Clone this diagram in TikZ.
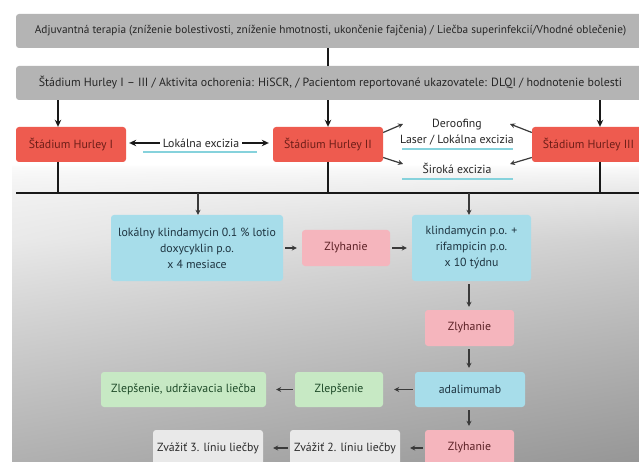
\documentclass[tikz,border=0pt]{standalone}
\usepackage{fontspec}
\setmainfont{PT Sans}
\usetikzlibrary{arrows.meta}
\definecolor{barg}{HTML}{B4B4B4}
\definecolor{bartxt}{HTML}{262626}
\definecolor{hred}{HTML}{EE5B4F}
\definecolor{hredtxt}{HTML}{6E1E18}
\definecolor{pinkf}{HTML}{F5B5BD}
\definecolor{pinktxt}{HTML}{5A1F24}
\definecolor{bluef}{HTML}{A7DDEA}
\definecolor{bluetxt}{HTML}{1E3440}
\definecolor{greenf}{HTML}{C7E9C4}
\definecolor{greentxt}{HTML}{1E4A28}
\definecolor{lgreyf}{HTML}{E9E9E9}
\definecolor{lgreytxt}{HTML}{2A2A2A}
\definecolor{tealline}{HTML}{86D2DC}
\definecolor{arrc}{HTML}{3A3A3A}
\pgfdeclarefunctionalshading{bgtwod}{\pgfpoint{0pt}{0pt}}{\pgfpoint{627pt}{462pt}}{}{
  exch 625 div 0.5 exch sub exch
  296 exch sub 296 div dup 0 lt {pop 0} if
  dup dup sqrt add 0.18 mul 1 exch sub
  3 1 roll
  4 mul dup 1 gt {pop 1} if
  mul 0.1 mul add
  dup dup
}
\tikzset{
  bar/.style={fill=barg, rounded corners=3pt, minimum height=34pt, text=bartxt,
    font=\fontsize{11.3}{13}\selectfont, inner sep=0pt},
  basebox/.style={rounded corners=3pt, align=center, inner sep=0pt,
    font=\fontsize{11.8}{16}\selectfont},
  redbox/.style={basebox, fill=hred, text=hredtxt, minimum height=35pt},
  pinkbox/.style={basebox, fill=pinkf, text=pinktxt, minimum height=36pt},
  bluebox/.style={basebox, fill=bluef, text=bluetxt},
  greenbox/.style={basebox, fill=greenf, text=greentxt, minimum height=35pt},
  greybox/.style={basebox, fill=lgreyf, text=lgreytxt, minimum height=36pt},
  lbl/.style={inner sep=1pt, font=\fontsize{11.8}{13}\selectfont, text=black!85},
  ln/.style={line width=1.6pt, draw=black!90},
  hln/.style={line width=2.2pt, draw=black!90},
  arr/.style={line width=1.3pt, draw=black!90, -{Stealth[length=7pt,width=6.5pt]}},
  arrs/.style={line width=1.1pt, draw=arrc, -{Stealth[length=5pt,width=5pt]}},
  uline/.style={line width=2pt, draw=tealline}
}
\begin{document}
\begin{tikzpicture}[x=1pt,y=-1pt]
\useasboundingbox (0,0) rectangle (639,462);
% background
\fill[white] (0,0) rectangle (639,462);
\node[inner sep=0pt, outer sep=0pt, anchor=north west] (bg) at (12,0) {\pgfuseshading{bgtwod}};

% top bars
\node[bar, minimum width=629pt] (b1) at (330.5,31) {Adjuvantná terapia (zníženie bolestivosti, zníženie hmotnosti, ukončenie fajčenia) / Liečba superinfekcií/Vhodné oblečenie)};
\node[bar, minimum width=629pt, font=\fontsize{11.9}{13}\selectfont] (b2) at (330.5,83) {Štádium Hurley I – III / Aktivita ochorenia: HiSCR, / Pacientom reportované ukazovatele: DLQI / hodnotenie bolesti};

\coordinate (xa) at (58,0);
\coordinate (xb) at (328,0);
\coordinate (xc) at (600,0);
\coordinate (xd) at (198,0);
\coordinate (xe) at (469,0);

% Hurley boxes
\node[redbox, minimum width=110pt] (h1) at (71,144.5) {Štádium Hurley I};
\node[redbox, minimum width=110pt] (h2) at (328,144.5) {Štádium Hurley II};
\node[redbox, minimum width=113pt] (h3) at (588.5,144.5) {Štádium Hurley III};

\draw[ln] (b1.south -| xb) -- (b2.north -| xb);
\draw[arr] (b2.south -| xa) -- (h1.north -| xa);
\draw[arr] (b2.south -| xb) -- (h2.north -| xb);
\draw[arr] (b2.south -| xc) -- (h3.north -| xc);

% labels between Hurley boxes
\node[lbl] (lok) at (201,143) {Lokálna excizia};
\draw[arr, shorten >=3pt, shorten <=2pt, line width=1.1pt] (lok.west) -- (lok.west -| h1.east);
\draw[arr, shorten >=4pt, shorten <=2pt, line width=1.1pt] (lok.east) -- (lok.east -| h2.west);
\coordinate (u1a) at (143,152); \coordinate (u1b) at (257,152);
\draw[uline] (u1a) -- (u1b);

\node[lbl] (der) at (457,125) {Deroofing};
\node[lbl] (las) at (457,140) {Laser / Lokálna excizia};
\node[lbl] (sir) at (457,168) {Široká excizia};
\coordinate (u2a) at (402,149); \coordinate (u2b) at (513,149);
\coordinate (u3a) at (402,179); \coordinate (u3b) at (513,179);
\draw[uline] (u2a) -- (u2b);
\draw[uline] (u3a) -- (u3b);

\coordinate (d1) at (403,124); \coordinate (d2) at (403,164);
\coordinate (d3) at (510,124); \coordinate (d4) at (510,164);
\draw[arrs, line width=1.2pt] ([yshift=12pt]h2.east) -- (d1);
\draw[arrs, line width=1.2pt] ([yshift=-13pt]h2.east) -- (d2);
\draw[arrs, line width=1.2pt] ([yshift=12pt]h3.west) -- (d3);
\draw[arrs, line width=1.2pt] ([yshift=-13pt]h3.west) -- (d4);

% horizontal line
\coordinate (hl) at (16,193);
\coordinate (hr) at (639,193);
\draw[ln] (h1.south -| xa) -- (hl -| xa);
\draw[ln] (h2.south -| xb) -- (hl -| xb);
\draw[ln] (h3.south -| xc) -- (hl -| xc);
\draw[hln] (hl) -- (hr);

% therapy row
\node[bluebox, minimum width=172pt, minimum height=66pt] (bl1) at (197,248) {lokálny klindamycin 0.1 \% lotio\\doxycyklin p.o.\\x 4 mesiace};
\node[pinkbox, minimum width=88pt] (z1) at (346,248) {Zlyhanie};
\node[bluebox, minimum width=119pt, minimum height=66pt] (bl2) at (471.5,248) {klindamycin p.o. +\\rifampicin p.o.\\x 10 týdnu};

\draw[arrs] (hl -| xd) -- (bl1.north -| xd);
\draw[arrs] (hl -| xe) -- (bl2.north -| xe);
\draw[arrs, shorten <=2pt, shorten >=5pt] (bl1.east) -- (z1.west);
\draw[arrs, shorten <=2pt, shorten >=5pt] (z1.east) -- (bl2.west);

\node[pinkbox, minimum width=89pt] (z2) at (469.5,328) {Zlyhanie};
\draw[arrs, shorten <=3pt, shorten >=3pt] (bl2.south -| xe) -- (z2.north -| xe);

\node[bluebox, minimum width=110pt, minimum height=35pt] (ad) at (470,389.5) {adalimumab};
\node[greenbox, minimum width=88pt] (zl) at (339,389.5) {Zlepšenie};
\node[greenbox, minimum width=165pt] (zul) at (183.5,389.5) {Zlepšenie, udržiavacia liečba};
\draw[arrs, shorten <=3pt, shorten >=4pt] (z2.south -| xe) -- (ad.north -| xe);
\draw[arrs, shorten <=2pt, shorten >=11pt] (ad.west) -- (zl.east);
\draw[arrs, shorten <=2pt, shorten >=10pt] (zl.west) -- (zul.east);

\node[pinkbox, minimum width=89pt] (z3) at (469.5,448) {Zlyhanie};
\node[greybox, minimum width=110pt] (zv2) at (345,448) {Zvážiť 2. líniu liečby};
\node[greybox, minimum width=110pt] (zv3) at (208,448) {Zvážiť 3. líniu liečby};
\draw[arrs, shorten <=3pt, shorten >=4pt] (ad.south -| xe) -- (z3.north -| xe);
\draw[arrs, shorten <=2pt, shorten >=10pt] (z3.west) -- (zv2.east);
\draw[arrs, shorten <=2pt, shorten >=10pt] (zv2.west) -- (zv3.east);
\end{tikzpicture}
\end{document}
